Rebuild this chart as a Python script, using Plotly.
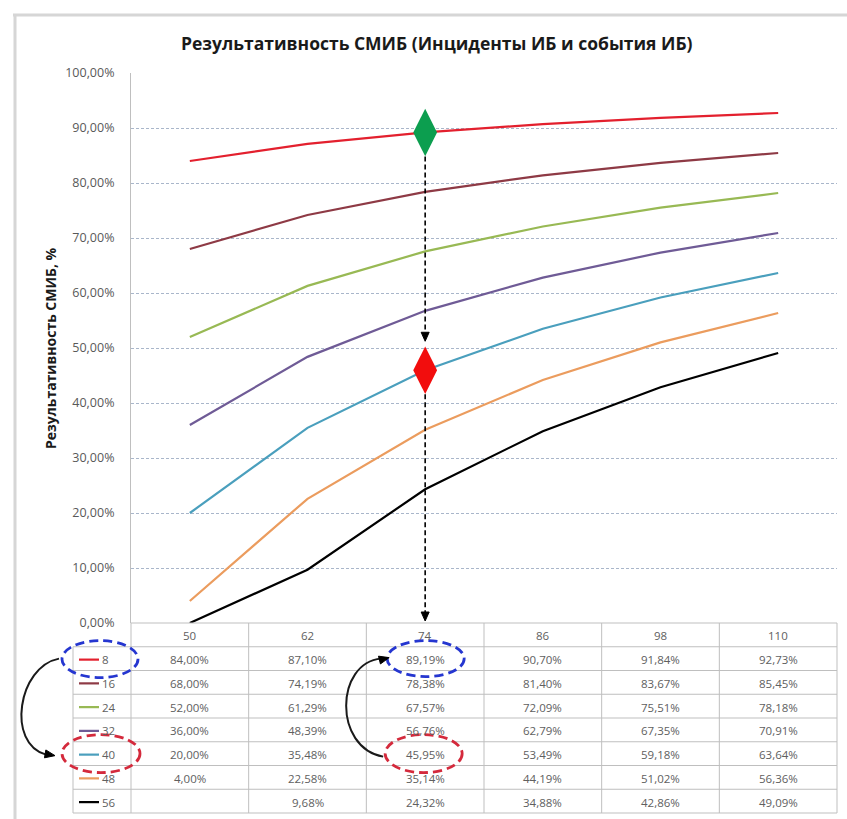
import plotly.graph_objects as go

# ---- data -------------------------------------------------------------
categories = [50, 62, 74, 86, 98, 110]
series_names = ["8", "16", "24", "32", "40", "48", "56"]
values_8 = [84.00, 87.10, 89.19, 90.70, 91.84, 92.73]
values_16 = [68.00, 74.19, 78.38, 81.40, 83.67, 85.45]
values_24 = [52.00, 61.29, 67.57, 72.09, 75.51, 78.18]
values_32 = [36.00, 48.39, 56.76, 62.79, 67.35, 70.91]
values_40 = [20.00, 35.48, 45.95, 53.49, 59.18, 63.64]
values_48 = [4.00, 22.58, 35.14, 44.19, 51.02, 56.36]
values_56 = [0.00, 9.68, 24.32, 34.88, 42.86, 49.09]
series_values = [values_8, values_16, values_24, values_32, values_40, values_48, values_56]
series_colors = ["#E3202E", "#8E3A45", "#98B954", "#6F5B96", "#4A9FBD", "#EB9C5E", "#000000"]

# highlighted point: category 74, series 8 (target) and series 40 (source)
focus_category = 74
focus_top_series = "8"
focus_bottom_series = "40"

FONT = "Open Sans, Lato, sans-serif"

W, H = 847, 819
L, R, T, B = 131, 837, 73, 623          # plot area in pixels
PW, PH = R - L, B - T
N = len(categories)
ROW_H = (813 - B) / 8                     # header + 7 rows
LEG_X0 = 73                               # left edge of the legend column


def fx(px):
    return (px - L) / PW


def fy(py):
    return (B - py) / PH


def cat_px(i):
    return L + (i + 0.5) * PW / N


def val_py(v):
    return B - v / 100 * PH


def fmt(v):
    # zero values are shown as an empty cell
    if v == 0:
        return ""
    return f"{v:.2f}".replace(".", ",") + "%"


fig = go.Figure()

for name, vals, col in zip(series_names, series_values, series_colors):
    fig.add_trace(go.Scatter(
        x=list(range(N)), y=[v / 100 for v in vals], mode="lines", name=name,
        line=dict(color=col, width=2.2), showlegend=False, hoverinfo="skip"))

ci = categories.index(focus_category)
top_vals = series_values[series_names.index(focus_top_series)]
bot_vals = series_values[series_names.index(focus_bottom_series)]
fig.add_trace(go.Scatter(x=[ci], y=[top_vals[ci] / 100], mode="markers", showlegend=False,
                         marker=dict(symbol="diamond-tall", size=34, color="#0C9E4F",
                                     line=dict(width=0))))
fig.add_trace(go.Scatter(x=[ci], y=[bot_vals[ci] / 100], mode="markers", showlegend=False,
                         marker=dict(symbol="diamond-tall", size=34, color="#F20D0D",
                                     line=dict(width=0))))

shapes = []
annotations = []

grey = "#BFBFBF"


def hline(y, x0, x1, color=grey, width=1):
    shapes.append(dict(type="line", xref="paper", yref="paper", x0=fx(x0), x1=fx(x1),
                       y0=fy(y), y1=fy(y), line=dict(color=color, width=width)))


def vline(x, y0, y1, color=grey, width=1):
    shapes.append(dict(type="line", xref="paper", yref="paper", x0=fx(x), x1=fx(x),
                       y0=fy(y0), y1=fy(y1), line=dict(color=color, width=width)))


def text(x, y, s, size=11.5, color="#606060", xanchor="center"):
    annotations.append(dict(xref="paper", yref="paper", x=fx(x), y=fy(y), text=s,
                            showarrow=False, xanchor=xanchor, yanchor="middle",
                            font=dict(size=size, color=color, family=FONT)))


def arrow_head(tip, tail, size=9, width=7):
    dx, dy = tip[0] - tail[0], tip[1] - tail[1]
    n = (dx * dx + dy * dy) ** 0.5
    ux, uy = dx / n, dy / n
    bx, by = tip[0] - ux * size, tip[1] - uy * size
    p1 = (bx - uy * width / 2, by + ux * width / 2)
    p2 = (bx + uy * width / 2, by - ux * width / 2)
    pts = [tip, p1, p2]
    path = "M " + " L ".join(f"{fx(a):.5f},{fy(b):.5f}" for a, b in pts) + " Z"
    shapes.append(dict(type="path", xref="paper", yref="paper", path=path,
                       fillcolor="black", line=dict(color="black", width=1)))


def curve(points, width=2):
    (x0, y0), (c1x, c1y), (c2x, c2y), (x1, y1) = points
    path = (f"M {fx(x0):.5f},{fy(y0):.5f} C {fx(c1x):.5f},{fy(c1y):.5f} "
            f"{fx(c2x):.5f},{fy(c2y):.5f} {fx(x1):.5f},{fy(y1):.5f}")
    shapes.append(dict(type="path", xref="paper", yref="paper", path=path,
                       line=dict(color="#1A1A1A", width=width)))


def ellipse(x0, y0, x1, y1, color):
    shapes.append(dict(type="circle", xref="paper", yref="paper", x0=fx(x0), x1=fx(x1),
                       y0=fy(y1), y1=fy(y0), line=dict(color=color, width=2.8, dash="9px,5px")))


# ---- chart frame ------------------------------------------------------
hline(15, 13, W, color="#D6D6D6", width=3)
vline(15, 14, H, color="#D6D6D6", width=3)

# ---- data table -------------------------------------------------------
hline(B, L, R)
for k in range(1, 9):
    hline(B + k * ROW_H, LEG_X0, R)
vline(LEG_X0, B + ROW_H, B + 8 * ROW_H)
for k in range(N + 1):
    vline(L + k * PW / N, B, B + 8 * ROW_H)

for i, c in enumerate(categories):
    text(cat_px(i), B + ROW_H / 2 + 1, str(c), size=11.5)

for r, (name, vals, col) in enumerate(zip(series_names, series_values, series_colors)):
    yc = B + (r + 1.5) * ROW_H + 1
    shapes.append(dict(type="line", xref="paper", yref="paper", x0=fx(79), x1=fx(99),
                       y0=fy(yc), y1=fy(yc), line=dict(color=col, width=2.2)))
    text(100, yc, name, size=11.5, xanchor="left")
    for i, v in enumerate(vals):
        text(cat_px(i), yc, fmt(v))

# ---- pointer from target value down to the table ---------------------
ax = cat_px(ci)
top_y = val_py(top_vals[ci])
bot_y = val_py(bot_vals[ci])
shapes.append(dict(type="line", xref="paper", yref="paper", x0=fx(ax), x1=fx(ax),
                   y0=fy(top_y + 24), y1=fy(bot_y - 38),
                   line=dict(color="black", width=1.6, dash="5px,3px")))
arrow_head((ax, bot_y - 29), (ax, bot_y - 45), size=9, width=8)
shapes.append(dict(type="line", xref="paper", yref="paper", x0=fx(ax), x1=fx(ax),
                   y0=fy(bot_y + 24), y1=fy(B - 8),
                   line=dict(color="black", width=1.6, dash="5px,3px")))
arrow_head((ax, B - 2), (ax, B - 20), size=9, width=8)

# ---- highlighted cells ------------------------------------------------
row_top = series_names.index(focus_top_series)
row_bot = series_names.index(focus_bottom_series)
yt = B + (row_top + 1.5) * ROW_H
yb = B + (row_bot + 1.5) * ROW_H
ellipse(62, yt - 18, 138, yt + 19, "#2536D0")
ellipse(62, yb - 19, 140, yb + 19, "#D42A3C")
ellipse(ax - 38, yt - 18, ax + 39, yt + 18, "#2536D0")
ellipse(ax - 40, yb - 19, ax + 37, yb + 19, "#D42A3C")

# curved arrows between the highlighted cells
curve([(59, yt), (18, yt + 8), (6, yb - 10), (46, yb + 1)])
arrow_head((55, yb + 2), (38, yb - 1), size=10, width=8)
curve([(ax - 42, yb + 3), (ax - 92, yb - 6), (ax - 90, yt + 4), (ax - 44, yt)])
arrow_head((ax - 36, yt - 1), (ax - 52, yt + 3), size=10, width=8)

# ---- titles -----------------------------------------------------------
annotations.append(dict(xref="paper", yref="paper", x=fx(437), y=fy(43),
                        text="<b>Результативность СМИБ (Инциденты ИБ и события ИБ)</b>",
                        showarrow=False, xanchor="center", yanchor="middle",
                        font=dict(size=17.5, color="#1A1A1A", family=FONT)))
annotations.append(dict(xref="paper", yref="paper", x=fx(50), y=fy(348),
                        text="<b>Результативность СМИБ, %</b>", textangle=-90,
                        showarrow=False, xanchor="center", yanchor="middle",
                        font=dict(size=14, color="#1A1A1A", family=FONT)))

fig.update_layout(
    width=W, height=H,
    margin=dict(l=L, r=W - R, t=T, b=H - B),
    paper_bgcolor="white", plot_bgcolor="white",
    separators=", ",
    shapes=shapes, annotations=annotations,
    xaxis=dict(range=[-0.5, N - 0.5], showticklabels=False, showgrid=False,
               zeroline=False, showline=False, ticks=""),
    yaxis=dict(range=[0, 1], dtick=0.1, tickformat=".2%", showgrid=True,
               gridcolor="#A9B6CA", griddash="3px,2px", gridwidth=1,
               zeroline=False, showline=True, linecolor="#BFBFBF", linewidth=1,
               ticks="", ticklen=0, ticklabelstandoff=13,
               tickfont=dict(size=12.5, color="#595959", family=FONT)),
)

fig.write_html("out.html")
